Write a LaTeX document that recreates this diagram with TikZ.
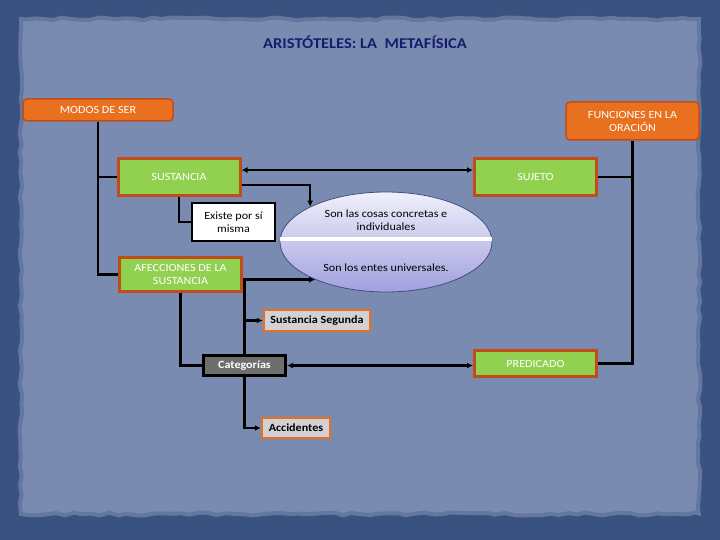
\documentclass[tikz,border=0pt]{standalone}
\usepackage{fontspec}
\setmainfont{Carlito}[FakeStretch=1.1]
\usetikzlibrary{positioning,arrows.meta,shapes.geometric,decorations.pathmorphing}
\definecolor{marco}{RGB}{58,82,128}
\definecolor{papel}{RGB}{121,139,177}
\definecolor{tinta}{RGB}{24,28,108}
\definecolor{naranja}{RGB}{232,112,30}
\definecolor{borde}{RGB}{192,76,26}
\definecolor{verde}{RGB}{146,208,80}
\definecolor{gris}{RGB}{110,110,110}
\definecolor{claro}{RGB}{210,210,214}
\definecolor{lilaclaro}{RGB}{240,240,252}
\definecolor{lilaoscuro}{RGB}{160,160,222}
\definecolor{contorno}{RGB}{70,78,130}
\tikzset{
mapa/.style={
    >={Latex[length=6pt,width=6pt]},
    x=1pt,
    y=-1pt,
    font=\fontsize{11}{13}\selectfont
},
titulo/.style={
    font=\fontsize{15}{17}\selectfont\bfseries,
    text=tinta
},
modo/.style={
    rectangle,
    rounded corners=4pt,
    draw=borde,
    line width=1.5pt,
    fill=naranja,
    text=white,
    align=center,
    inner sep=2pt
},
concepto/.style={
    rectangle,
    draw=borde,
    line width=3pt,
    fill=verde,
    text=white,
    align=center,
    minimum width=122pt,
    inner sep=2pt
},
nota/.style={
    rectangle,
    draw=black,
    line width=2pt,
    fill=white,
    align=center,
    inner sep=2pt
},
categoria/.style={
    rectangle,
    draw=black,
    line width=3pt,
    fill=gris,
    text=white,
    font=\fontsize{11}{13}\selectfont\bfseries,
    inner sep=2pt
},
hoja/.style={
    rectangle,
    draw=naranja,
    line width=2.5pt,
    fill=claro,
    font=\fontsize{11}{13}\selectfont\bfseries,
    inner sep=2pt
},
clase/.style={
    ellipse,
    draw=contorno,
    line width=0.8pt,
    top color=lilaclaro,
    bottom color=lilaoscuro,
    minimum width=212pt,
    minimum height=100pt,
    inner sep=0pt
},
rasgado/.style={
    decorate,
    decoration={random steps, segment length=9pt, amplitude=1.5pt}
},
enlace/.style={
    draw,
    line width=2.5pt
},
sees/.style={
    ->
},
seens/.style={
    <->
}}

\begin{document}
\begin{tikzpicture}[mapa]
\useasboundingbox (0,0) rectangle (720,540);
\fill[marco] (0,0) rectangle (720,540);
\pgfmathsetseed{11}
\fill[papel, rasgado] (19,17) rectangle (701,516);
\pgfmathsetseed{11}
\draw[marco, opacity=0.35, line width=8pt, rasgado] (19,17) rectangle (701,516);

\node[titulo]       (titulo)    at (365,42)       {ARISTÓTELES: LA\ \ METAFÍSICA};
\node[modo]         (modos)     at (98,110)       [minimum width=150pt, minimum height=22pt]    {MODOS DE SER};
\node[modo]         (funciones) at (632.5,121)    [minimum width=133pt, minimum height=38pt]    {FUNCIONES EN LA\\ORACIÓN};
\node[concepto]     (sust)      at (179,177)      [minimum height=37pt]    {SUSTANCIA};
\node[concepto]     (sujeto)    at (535.5,177)    [minimum height=37pt]    {SUJETO};
\node[concepto]     (afec)      at (180.5,274.5)  [minimum height=34pt]    {AFECCIONES DE LA\\SUSTANCIA};
\node[concepto]     (pred)      at (535.5,363.5)  [minimum height=26pt]    {PREDICADO};
\node[nota]         (existe)    at (233.5,222)    [minimum width=83pt, minimum height=38pt]    {Existe por sí\\misma};
\node[categoria]    (cat)       at (244.5,365.5)  [minimum width=82pt, minimum height=20pt]    {Categorías};
\node[hoja]         (segunda)   at (317,320.5)    [minimum width=106pt, minimum height=21pt]    {Sustancia Segunda};
\node[hoja]         (acc)       at (296,428)      [minimum width=68pt, minimum height=20pt]     {Accidentes};
\node[clase]        (ell)       at (386,242)      {};
\draw[white, line width=4pt] ([yshift=3pt]ell.west) -- ([yshift=3pt]ell.east);
\node[align=center] (concretas)   at (386,220)    {Son las cosas concretas e\\individuales};
\node               (universales) at (386,268)    {Son los entes universales.};

\draw[enlace]          (modos.south)     |- (sust.west);
\draw[enlace]          (modos.south)     |- (afec.west);
\draw[enlace]          (funciones.south) |- (sujeto.east);
\draw[enlace]          (funciones.south) |- (pred.east);
\draw[enlace]          (sust.south)      |- (existe.west);
\draw[enlace]          (afec.south)      |- (cat.west);
\draw[enlace,sees]     ([yshift=-8pt]sust.east) -| (ell.155);
\draw[enlace,sees]     (cat.north)       |- (ell.208);
\draw[enlace,sees]     (cat.north)       |- (segunda.west);
\draw[enlace,sees]     (cat.south)       |- (acc.west);
\draw[enlace,seens]    ([yshift=7pt]sust.east) -- ([yshift=7pt]sujeto.west);
\draw[enlace,seens]    (cat.east)        -- (cat.east -| pred.west);
\end{tikzpicture}
\end{document}
